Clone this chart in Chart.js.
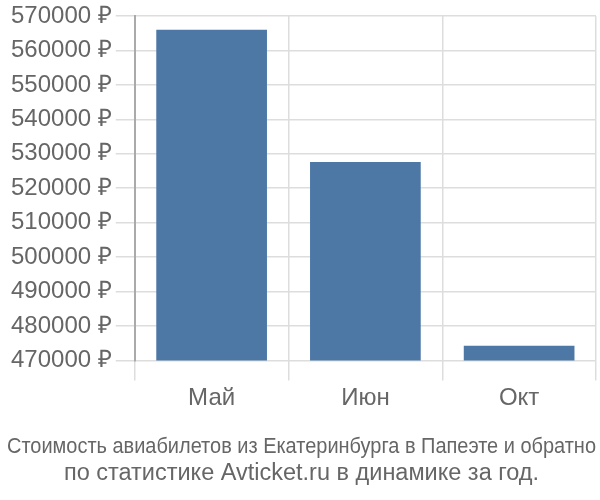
<!DOCTYPE html>
<html>
<head>
<meta charset="utf-8">
<script src="https://cdn.jsdelivr.net/npm/chart.js@4"></script>
<style>
  html, body { margin: 0; padding: 0; background: #fff; }
  #wrap { width: 600px; height: 500px; }
</style>
</head>
<body>
<div id="wrap"><canvas id="priceChart" width="600" height="500"></canvas></div>
<script>
// данные графика
const months = ['Май', 'Июн', 'Окт'];
const prices = [566000, 527600, 474300];
const yTicks = [470000, 480000, 490000, 500000, 510000, 520000, 530000, 540000, 550000, 560000, 570000];
const titleLines = ['Стоимость авиабилетов из Екатеринбурга в Папеэте и обратно',
                    'по статистике Avticket.ru в динамике за год.'];

const ctx = document.getElementById('priceChart').getContext('2d');
const priceChart = new Chart(ctx, {
    type: 'bar',
    data: {
        labels: months,
        datasets: [{
            data: prices,
            backgroundColor: '#4d78a6',
            categoryPercentage: 0.72,
            barPercentage: 1.0
        }]
    },
    options: {
        responsive: false,
        animation: false,
        layout: { padding: { top: 0, right: 4, left: 7, bottom: 0 } },
        plugins: {
            legend: { display: false },
            tooltip: { enabled: false },
            // нижняя строка подписи (дальше от графика)
            title: {
                display: true,
                position: 'bottom',
                text: titleLines[1],
                color: '#666',
                font: { family: 'Liberation Sans', size: 23.5, weight: 'normal' },
                padding: { top: 0, bottom: 12 }
            },
            // верхняя строка подписи
            subtitle: {
                display: true,
                position: 'bottom',
                text: titleLines[0],
                color: '#666',
                font: { family: 'Liberation Sans', size: 21.3, weight: 'normal' },
                padding: { top: 17, bottom: 0 }
            }
        },
        scales: {
            y: {
                min: yTicks[0],
                max: yTicks[yTicks.length - 1],
                afterBuildTicks: function(axis) {
                    axis.ticks = yTicks.map(v => ({ value: v }));
                },
                ticks: {
                    color: '#666',
                    font: { family: 'Liberation Sans', size: 24, lineHeight: 1.0 },
                    padding: 4,
                    callback: v => v + ' ₽'
                },
                grid: { color: '#ddd', lineWidth: 1.5, tickLength: 19 },
                border: { color: '#aaa', width: 2 }
            },
            x: {
                ticks: {
                    color: '#666',
                    font: { family: 'Liberation Sans', size: 24 },
                    padding: 4
                },
                grid: { color: '#ddd', lineWidth: 1.5, tickLength: 20, offset: true },
                border: { display: false }
            }
        }
    }
});
</script>
</body>
</html>
